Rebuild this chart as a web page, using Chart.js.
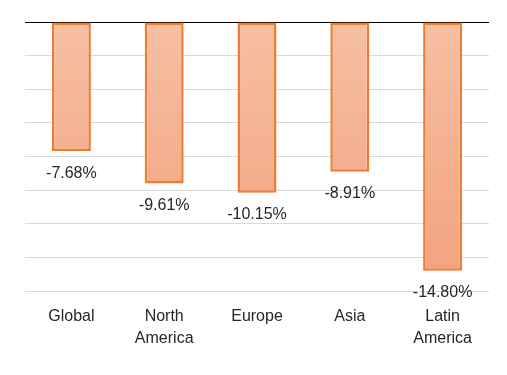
<!DOCTYPE html>
<html>
<head>
<meta charset="utf-8">
<script src="https://cdn.jsdelivr.net/npm/chart.js@4.4.0/dist/chart.umd.min.js"></script>
<style>
  html, body { margin: 0; padding: 0; background: #fff; }
  #wrap { width: 507px; height: 375px; }
</style>
</head>
<body>
<div id="wrap"><canvas id="barChart" width="507" height="375"></canvas></div>
<script>
const regions = [['Global'], ['North', 'America'], ['Europe'], ['Asia'], ['Latin', 'America']];
const changes = [-7.68, -9.61, -10.15, -8.91, -14.80];
const yMin = -16, yMax = 0, yStep = 2;

function barGradient(ctx) {
    const area = ctx.chart.chartArea;
    if (!area) return '#f5b090';
    const g = ctx.chart.ctx.createLinearGradient(0, area.top, 0, area.bottom);
    g.addColorStop(0, '#f6bfa3');
    g.addColorStop(1, '#f3a17c');
    return g;
}

// draw the value under each bar end
const valueLabels = {
    id: 'valueLabels',
    afterDatasetsDraw(chart) {
        const c = chart.ctx;
        const meta = chart.getDatasetMeta(0);
        c.save();
        c.font = '16px "Liberation Sans", sans-serif';
        c.fillStyle = '#262626';
        c.textAlign = 'center';
        c.textBaseline = 'middle';
        meta.data.forEach((bar, i) => {
            c.fillText(changes[i].toFixed(2) + '%', bar.x, bar.y + 22);
        });
        c.restore();
    }
};

new Chart(document.getElementById('barChart').getContext('2d'), {
    type: 'bar',
    data: {
        labels: regions,
        datasets: [{
            data: changes,
            backgroundColor: barGradient,
            borderColor: '#ed7d31',
            borderWidth: 2.5,
            borderSkipped: false,
            categoryPercentage: 1,
            barPercentage: 0.42
        }]
    },
    options: {
        responsive: false,
        animation: false,
        layout: { padding: { left: 25, right: 18, top: 22, bottom: 0 } },
        plugins: { legend: { display: false }, tooltip: { enabled: false } },
        scales: {
            x: {
                grid: { display: false },
                border: { display: false },
                ticks: {
                    color: '#262626',
                    padding: 6,
                    font: { size: 16, family: '"Liberation Sans", sans-serif', lineHeight: 1.4 }
                },
                afterFit(axis) { axis.height = 84; }
            },
            y: {
                min: yMin,
                max: yMax,
                ticks: { display: false, stepSize: yStep },
                border: { display: false },
                grid: {
                    drawTicks: false,
                    color: (ctx) => ctx.tick && ctx.tick.value === 0 ? '#000000' : '#d9d9d9',
                    lineWidth: 1
                },
                afterFit(axis) { axis.width = 0; }
            }
        }
    },
    plugins: [valueLabels]
});
</script>
</body>
</html>
